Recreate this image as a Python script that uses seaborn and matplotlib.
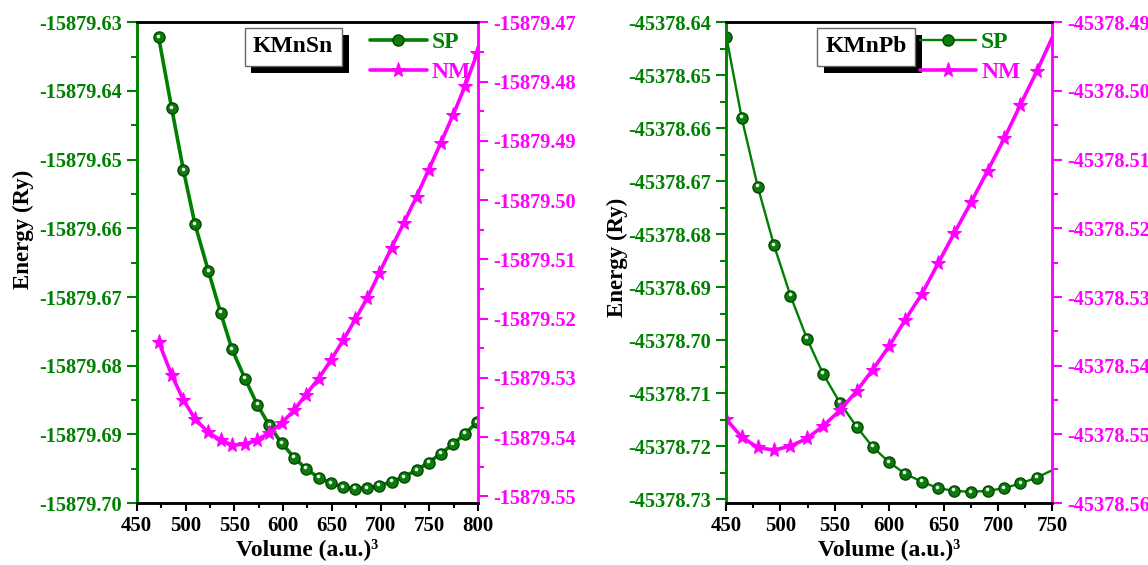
import numpy as np
import pandas as pd
import seaborn as sns
import matplotlib
matplotlib.use("Agg")
import matplotlib.pyplot as plt
from matplotlib.ticker import MultipleLocator, FormatStrFormatter, AutoMinorLocator
import matplotlib.patheffects as pe
from matplotlib.transforms import ScaledTranslation

# ---------------- data ----------------
vol_sn = [472.5, 485.8, 497.8, 509.7, 523.4, 536.0, 547.6, 561.0, 573.6, 585.9,
          598.5, 611.5, 623.4, 636.4, 649.0, 661.7, 674.0, 686.3, 698.6, 711.2,
          723.8, 736.8, 749.1, 761.7, 774.3, 786.6, 798.9]
sp_sn = [-15879.6322, -15879.6425, -15879.6515, -15879.6594, -15879.6662, -15879.6723,
         -15879.6776, -15879.6819, -15879.6857, -15879.6887, -15879.6913, -15879.6934,
         -15879.6950, -15879.6963, -15879.6971, -15879.6977, -15879.6979, -15879.6978,
         -15879.6975, -15879.6969, -15879.6962, -15879.6952, -15879.6941, -15879.6928,
         -15879.6914, -15879.6899, -15879.6882]
nm_sn = [-15879.5239, -15879.5295, -15879.5337, -15879.5369, -15879.5392, -15879.5405,
         -15879.5413, -15879.5412, -15879.5404, -15879.5393, -15879.5376, -15879.5354,
         -15879.5328, -15879.5301, -15879.5270, -15879.5236, -15879.5201, -15879.5165,
         -15879.5123, -15879.5080, -15879.5038, -15879.4994, -15879.4949, -15879.4903,
         -15879.4856, -15879.4807, -15879.4752]

vol_pb = [450.3, 464.4, 479.2, 494.2, 509.3, 524.5, 539.2, 554.8, 570.1, 584.8,
          599.9, 614.9, 630.3, 645.0, 659.9, 675.4, 690.6, 705.9, 720.7, 735.9, 750.0]
sp_pb = [-45378.6427, -45378.6580, -45378.6710, -45378.6821, -45378.6916, -45378.6997,
         -45378.7063, -45378.7118, -45378.7163, -45378.7201, -45378.7230, -45378.7252,
         -45378.7267, -45378.7279, -45378.7284, -45378.7286, -45378.7284, -45378.7279,
         -45378.7270, -45378.7259, -45378.7245]
nm_pb = [-45378.5478, -45378.5504, -45378.5519, -45378.5523, -45378.5517, -45378.5506,
         -45378.5488, -45378.5465, -45378.5437, -45378.5406, -45378.5372, -45378.5333,
         -45378.5295, -45378.5251, -45378.5207, -45378.5162, -45378.5116, -45378.5069,
         -45378.5020, -45378.4971, -45378.4922]

names = ["KMnSn", "KMnPb"]
series_labels = ["SP", "NM"]
xlabel = "Volume (a.u.)³"
ylabel = "Energy (Ry)"

GREEN = "#008000"
MAGENTA = "#FF00FF"

sns.set_theme(style="white")
plt.rcParams["font.family"] = ["Liberation Serif", "DejaVu Serif"]
plt.rcParams["font.weight"] = "bold"
plt.rcParams["axes.labelweight"] = "bold"

fig = plt.figure(figsize=(11.48, 5.65), dpi=100)
fig.patch.set_facecolor("white")


def panel(rect, vol, sp, nm, xlim, ylim_l, ylim_r, name, box_x, leg_x, sp_lw,
          mevery, ylab_pos):
    ax = fig.add_axes(rect)
    ax2 = ax.twinx()
    vol = np.asarray(vol)
    sp = np.asarray(sp)
    nm = np.asarray(nm)
    sns.lineplot(x=vol, y=sp, ax=ax, color=GREEN, lw=sp_lw, marker="o",
                 markersize=8, markerfacecolor="#0c7a0c", markeredgecolor="#004a00",
                 markeredgewidth=1.0, markevery=mevery, label=series_labels[0],
                 legend=False, sort=False)
    hl = ax.transData + ScaledTranslation(-0.6 / 72, 1.0 / 72, fig.dpi_scale_trans)
    ax.plot(vol[mevery], sp[mevery], ls="none", marker="o", ms=2.6,
            color="#e8f5e8", mec="none", transform=hl)
    sns.lineplot(x=vol, y=nm, ax=ax2, color=MAGENTA, lw=2.6, marker="*",
                 markersize=11, markerfacecolor=MAGENTA, markeredgecolor=MAGENTA,
                 markevery=mevery, label=series_labels[1], legend=False, sort=False)

    ax.set_xlim(*xlim)
    ax.set_ylim(*ylim_l)
    ax2.set_ylim(*ylim_r)

    ax.xaxis.set_major_locator(MultipleLocator(50))
    ax.xaxis.set_minor_locator(AutoMinorLocator(2))
    for a in (ax, ax2):
        a.yaxis.set_major_locator(MultipleLocator(0.01))
        a.yaxis.set_minor_locator(AutoMinorLocator(2))
        a.yaxis.set_major_formatter(FormatStrFormatter("%.2f"))
        a.grid(False)

    ax.tick_params(axis="x", which="major", direction="out", length=6, width=1.5,
                   colors="black", labelsize=15, pad=3, bottom=True)
    ax.tick_params(axis="x", which="minor", direction="out", length=3.5, width=1.5,
                   colors="black", bottom=True)
    ax.tick_params(axis="y", which="major", direction="out", length=7, width=1.5,
                   colors=GREEN, labelsize=14.7, pad=3.5, left=True)
    ax.tick_params(axis="y", which="minor", direction="out", length=4, width=1.5,
                   colors=GREEN, left=True)
    ax2.tick_params(axis="y", which="major", direction="out", length=7, width=1.5,
                    colors=MAGENTA, labelsize=14.7, pad=3.5, right=True)
    ax2.tick_params(axis="y", which="minor", direction="out", length=4, width=1.5,
                    colors=MAGENTA, right=True)

    for a in (ax, ax2):
        a.spines["left"].set_color(GREEN)
        a.spines["right"].set_color(MAGENTA)
        a.spines["top"].set_color("black")
        a.spines["bottom"].set_color("black")
        for s in a.spines.values():
            s.set_linewidth(1.8)
            s.set_visible(True)

    ax.set_xlabel(xlabel, fontsize=17, fontweight="bold", color="black", labelpad=2)
    ax.set_ylabel(ylabel, fontsize=16.5, fontweight="bold", color="black")
    ax.yaxis.set_label_coords(*ylab_pos)
    ax2.set_ylabel("")

    t = ax2.text(box_x, 0.949, name, transform=ax2.transAxes, ha="center",
                 va="center", fontsize=17, fontweight="bold", color="black",
                 zorder=10,
                 bbox=dict(boxstyle="square,pad=0.36", fc="white", ec="#666666",
                           lw=1.0))
    t.get_bbox_patch().set_path_effects(
        [pe.withSimplePatchShadow(offset=(5, -5), shadow_rgbFace="black", alpha=1.0)])

    h1, l1 = ax.get_legend_handles_labels()
    h2, l2 = ax2.get_legend_handles_labels()
    leg = ax2.legend(h1[:1] + h2[:1], l1[:1] + l2[:1], loc="upper left",
                     bbox_to_anchor=(leg_x, 1.0), frameon=False,
                     handlelength=2.4, handletextpad=0.2, labelspacing=0.35,
                     prop={"family": "Liberation Serif", "weight": "bold",
                           "size": 17},
                     labelcolor=[GREEN, MAGENTA], borderaxespad=0.0)
    leg.set_zorder(11)
    return ax, ax2


panel([0.1191, 0.1097, 0.2975, 0.8508], vol_sn, sp_sn, nm_sn, (450, 800),
      (-15879.70, -15879.63), (-15879.5511, -15879.47), names[0], 0.458, 0.655,
      2.6, list(range(len(vol_sn))), (-0.30, 0.57))

panel([0.6324, 0.1097, 0.2842, 0.8508], vol_pb, sp_pb, nm_pb, (450, 750),
      (-45378.7307, -45378.64), (-45378.56, -45378.49), names[1], 0.43, 0.565,
      1.7, list(range(len(vol_pb) - 1)), (-0.30, 0.51))

fig.savefig("out.png", dpi=100, facecolor="white")
